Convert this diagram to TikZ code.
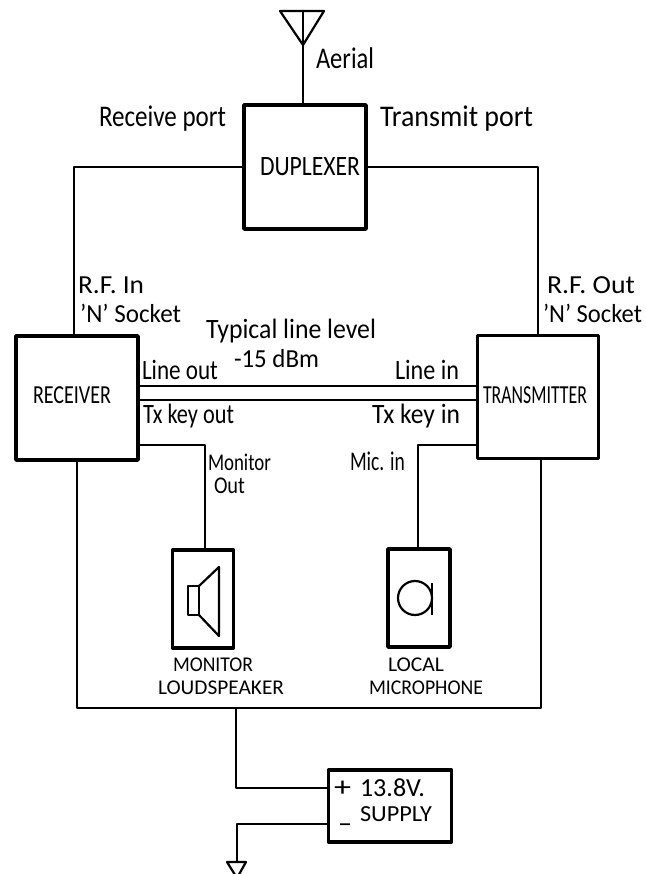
\documentclass[tikz,border=0pt]{standalone}
\usepackage{graphicx}
\usepackage{fontspec}
\setmainfont{Carlito}
\newcommand{\lbl}[6]{% name, left x, baseline y, target width, font size, text
  \node[lab, font=\fontsize{#5}{#5}\selectfont] (#1) at (#2,#3) {\resizebox{#4pt}{\height}{#6}};}
\tikzset{
  box/.style={draw=black, line width=3.6pt, fill=none, inner sep=0pt, outer sep=0pt, line join=round},
  wire/.style={draw=black, line width=2pt, line join=round},
  bus/.style={draw=black, line width=2.6pt},
  glyph/.style={draw=black, line width=2.2pt, line join=round},
  lab/.style={anchor=base west, inner sep=0pt, outer sep=0pt, text=black},
}
\begin{document}
\begin{tikzpicture}[x=1pt,y=-1pt]
\fill[white] (0,0) rectangle (645,874);
\useasboundingbox (0,0) rectangle (645,874);
\clip (0,0) rectangle (645,874);
% boxes
\node[box, minimum width=122pt, minimum height=124pt] (dup) at (305,167) {};
\node[box, minimum width=122pt, minimum height=124pt] (rx) at (77,398) {};
\node[box, minimum width=121pt, minimum height=123pt] (tx) at (538,397) {};
\node[box, minimum width=61pt, minimum height=98pt] (spk) at (203,599) {};
\node[box, minimum width=62pt, minimum height=98pt] (mic) at (419,598) {};
\node[box, minimum width=123pt, minimum height=72pt] (psu) at (390,806) {};
% free ends
\coordinate (ant) at (303,10);
\coordinate (antL) at (280,11);
\coordinate (antR) at (324,11);
\coordinate (antB) at (303,45);
\coordinate (dupTop) at (303,105);
\coordinate (rxTop) at (74,336);
\coordinate (txTop) at (538,335);
\coordinate (rxLine) at (138,386);
\coordinate (txLine) at (477,386);
\coordinate (rxKey) at (138,400);
\coordinate (txKey) at (477,400);
\coordinate (rxMon) at (138,445);
\coordinate (txMic) at (477,445);
\coordinate (spkTop) at (205,550);
\coordinate (micTop) at (417.5,549);
\coordinate (rxBot) at (77,460);
\coordinate (txBot) at (541,458);
\coordinate (busL) at (77,708);
\coordinate (busR) at (541,708);
\coordinate (busT) at (236,708);
\coordinate (psuP) at (328,788);
\coordinate (psuN) at (328,824);
\coordinate (gndTop) at (237,862);
% aerial
\draw[glyph] (antL) -- (antR) -- (antB) -- cycle;
\draw[wire] (ant) -- (dupTop);
% wiring
\draw[wire] (dup.west) -| (rxTop);
\draw[wire] (dup.east) -| (txTop);
\draw[bus] (rxLine) -- (txLine);
\draw[bus] (rxKey) -- (txKey);
\draw[wire] (rxMon) -| (spkTop);
\draw[wire] (txMic) -| (micTop);
\draw[wire] (rxBot) -- (busL) -- (busR) -- (txBot);
\draw[wire] (busT) |- (psuP);
\draw[wire] (psuN) -| (gndTop);
\draw[glyph] (227,862) -- (246,862) -- (237,878) -- cycle;
% speaker
\draw[glyph] (199,586) -- (188,586) -- (188,615) -- (199,615) -- cycle;
\draw[glyph] (199,586) -- (219,567) -- (219,636) -- (199,615);
% microphone
\draw[glyph] (415,598) circle (17);
\draw[glyph] (432,583) -- (432,615);
% labels
\lbl{tAerial}{316}{69}{58}{30pt}{Aerial}
\lbl{tRecv}{99}{127}{127}{30pt}{Receive port}
\lbl{tTran}{380}{127}{153}{30pt}{Transmit port}
\lbl{tDup}{260}{176}{100}{28pt}{DUPLEXER}
\lbl{tRFin}{78}{293}{66}{26pt}{R.F. In}
\lbl{tNin}{80}{322}{101}{26pt}{'N' Socket}
\lbl{tRFout}{547}{293}{88}{26pt}{R.F. Out}
\lbl{tNout}{543}{322}{99}{26pt}{'N' Socket}
\lbl{tTyp}{206}{338}{170}{28pt}{Typical line level}
\lbl{tdBm}{234}{367}{85}{26pt}{-15 dBm}
\lbl{tLout}{142}{379}{76}{28pt}{Line out}
\lbl{tLin}{395}{379}{64}{28pt}{Line in}
\lbl{tKout}{143}{423}{91}{28pt}{Tx key out}
\lbl{tKin}{372}{423}{88}{28pt}{Tx key in}
\lbl{tRx}{33}{403}{78}{26pt}{RECEIVER}
\lbl{tTx}{483}{403}{104}{26pt}{TRANSMITTER}
\lbl{tMon}{208}{470}{63}{24pt}{Monitor}
\lbl{tOut}{214}{493}{31}{24pt}{Out}
\lbl{tMic}{350}{470}{55}{27pt}{Mic. in}
\lbl{tMonU}{173}{671}{80}{21pt}{MONITOR}
\lbl{tLoud}{158}{694}{126}{21pt}{LOUDSPEAKER}
\lbl{tLocal}{388}{671}{56}{21pt}{LOCAL}
\lbl{tMicro}{369}{694}{114}{21pt}{MICROPHONE}
\lbl{tPlus}{334}{796}{17}{28pt}{+}
\lbl{tV}{360}{796}{65}{26pt}{13.8V.}
\lbl{tSup}{360}{821}{72}{23pt}{SUPPLY}
\lbl{tMinus}{338}{832}{14}{28pt}{–}
\end{tikzpicture}
\end{document}
